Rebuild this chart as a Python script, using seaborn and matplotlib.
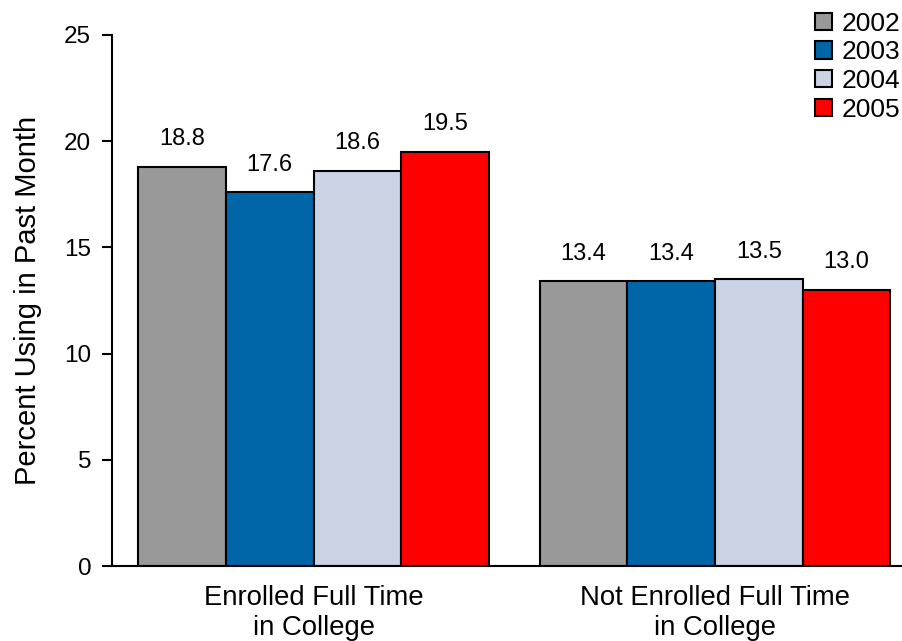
import matplotlib
matplotlib.use("Agg")
import matplotlib.pyplot as plt
from matplotlib.patches import Patch
import seaborn as sns
import pandas as pd

# Data
groups = ["Enrolled Full Time\nin College", "Not Enrolled Full Time\nin College"]
years = ["2002", "2003", "2004", "2005"]
enrolled = [18.8, 17.6, 18.6, 19.5]
not_enrolled = [13.4, 13.4, 13.5, 13.0]
colors = ["#999999", "#0066A8", "#C9D3E4", "#FF0000"]
yticks = [0, 5, 10, 15, 20, 25]

rows = []
for yr, a, b in zip(years, enrolled, not_enrolled):
    rows.append({"group": groups[0], "year": yr, "pct": a})
    rows.append({"group": groups[1], "year": yr, "pct": b})
df = pd.DataFrame(rows)

sns.set_theme(style="white")
plt.rcParams["font.family"] = ["Liberation Sans", "DejaVu Sans"]
for key in ["text.color", "axes.labelcolor", "xtick.color", "ytick.color"]:
    plt.rcParams[key] = "black"

fig = plt.figure(figsize=(9.02, 6.41), dpi=100)
ax = fig.add_axes([0.1242, 0.117, 0.8758, 0.8284])

sns.barplot(data=df, x="group", y="pct", hue="year", hue_order=years,
            order=groups, palette=colors, width=0.874, gap=0,
            edgecolor="black", linewidth=1.5, saturation=1,
            errorbar=None, legend=False, ax=ax)

for cont in ax.containers:
    ax.bar_label(cont, fmt="%.1f", padding=12, fontsize=17, color="black")

ax.set_xlim(-0.502, 1.466)
ax.set_ylim(0, 25)
ax.set_yticks(yticks)
ax.set_yticklabels([str(t) for t in yticks], fontsize=17.5)
ax.set_xlabel("")
ax.set_ylabel("Percent Using in Past Month", fontsize=21, labelpad=16)
ax.tick_params(axis="x", length=0, pad=14, labelsize=19.8)
ax.tick_params(axis="y", length=7, width=1.5, direction="out", left=True,
               pad=8, colors="black")

for side in ["top", "right"]:
    ax.spines[side].set_visible(False)
for side in ["left", "bottom"]:
    ax.spines[side].set_linewidth(1.5)
    ax.spines[side].set_color("black")

handles = [Patch(facecolor=c, edgecolor="black", linewidth=1.5) for c in colors]
leg = ax.legend(handles, years, loc="upper left",
                bbox_to_anchor=(0.9035, 0.982), bbox_transform=fig.transFigure,
                frameon=False, fontsize=19, handlelength=0.64, handleheight=0.64,
                handletextpad=0.38, labelspacing=0.18, borderpad=0, borderaxespad=0)

fig.savefig("out.png", dpi=100)
